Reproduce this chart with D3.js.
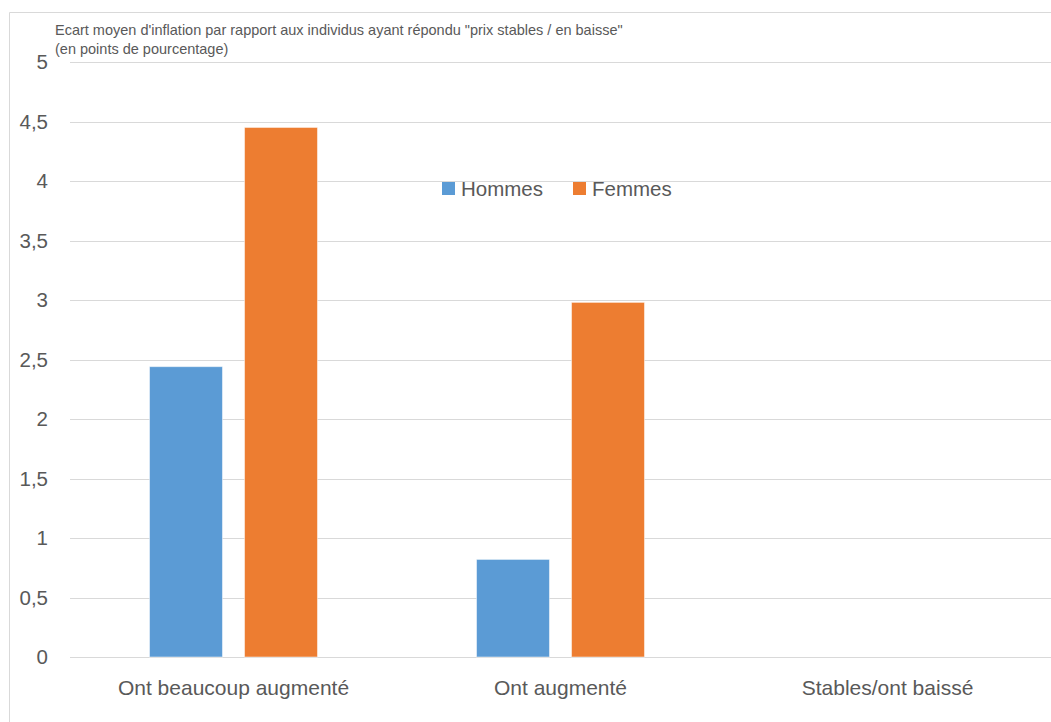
<!DOCTYPE html>
<html>
<head>
<meta charset="utf-8">
<script src="https://cdn.jsdelivr.net/npm/d3@7"></script>
<style>
body{margin:0;background:#fff;}
text{font-family:"Liberation Sans","DejaVu Sans",sans-serif;fill:#595959;}
</style>
</head>
<body>
<svg id="chart" width="1051" height="722"></svg>
<script>
var categories=["Ont beaucoup augmenté","Ont augmenté","Stables/ont baissé"];
var series=["Hommes","Femmes"];
var hommes=[2.44,0.82,0];
var femmes=[4.45,2.98,0];
var yTicks=[0,0.5,1,1.5,2,2.5,3,3.5,4,4.5,5];
var colors=["#5b9bd5","#ed7d31"];

var svg=d3.select("#chart");
var mLeft=70,mRight=1051,mTop=62,mBottom=657;

// cadre
svg.append("path").attr("d","M9.5,722V12.5H1051")
    .attr("fill","none").attr("stroke","#d9d9d9").attr("stroke-width",1);

var x=d3.scaleBand().domain(categories).range([mLeft,mRight]);
var xs=d3.scaleBand().domain(series).range([0,x.bandwidth()]).paddingInner(0.232).paddingOuter(0.837);
var y=d3.scaleLinear().domain([0,5]).range([mBottom,mTop]);

// grille
svg.append("g").selectAll("line").data(yTicks).enter().append("line")
    .attr("x1",mLeft).attr("x2",mRight)
    .attr("y1",function(d){return Math.round(y(d))+0.5;})
    .attr("y2",function(d){return Math.round(y(d))+0.5;})
    .attr("stroke","#d9d9d9").attr("stroke-width",1.2);

var yAxis=svg.append("g").attr("transform","translate(48,0)")
    .call(d3.axisLeft(y).tickValues(yTicks).tickSize(0).tickPadding(0)
        .tickFormat(function(d){return String(d).replace(".",",");}));
yAxis.select(".domain").remove();
yAxis.selectAll("text").style("font-size","20.5px").attr("fill","#595959")
    .style("font-family","'Liberation Sans',sans-serif");

var xAxis=svg.append("g").attr("transform","translate(0,"+mBottom+")")
    .call(d3.axisBottom(x).tickSize(0).tickPadding(23));
xAxis.select(".domain").remove();
xAxis.selectAll("text").style("font-size","21px").attr("fill","#595959")
    .style("font-family","'Liberation Sans',sans-serif");

var rows=categories.map(function(c,i){return {cat:c,vals:[hommes[i],femmes[i]]};});
var groups=svg.append("g").selectAll("g").data(rows).enter().append("g")
    .attr("transform",function(d){return "translate("+x(d.cat)+",0)";});
groups.selectAll("rect").data(function(d){
        return d.vals.map(function(v,j){return {s:series[j],v:v,c:colors[j]};});
    }).enter().append("rect")
    .attr("x",function(d){return xs(d.s);})
    .attr("width",xs.bandwidth())
    .attr("y",function(d){return y(d.v);})
    .attr("height",function(d){return mBottom-y(d.v);})
    .attr("fill",function(d){return d.c;})
    .attr("stroke",function(d){return d.v>0?"#fff":"none";}).attr("stroke-opacity",0.5);

// titre
var title=svg.append("text").style("font-size","14.5px").attr("fill","#262626");
title.append("tspan").attr("x",55).attr("y",35).text("Ecart moyen d'inflation par rapport aux individus ayant répondu \"prix stables / en baisse\"");
title.append("tspan").attr("x",55).attr("y",54).text("(en points de pourcentage)");

// légende
var legX=[442,573];
var leg=svg.append("g").selectAll("g").data(series).enter().append("g")
    .attr("transform",function(d,i){return "translate("+legX[i]+",182)";});
leg.append("rect").attr("width",13).attr("height",13).attr("fill",function(d,i){return colors[i];});
leg.append("text").attr("x",19).attr("y",14).style("font-size","20.5px").text(function(d){return d;});
</script>
</body>
</html>
